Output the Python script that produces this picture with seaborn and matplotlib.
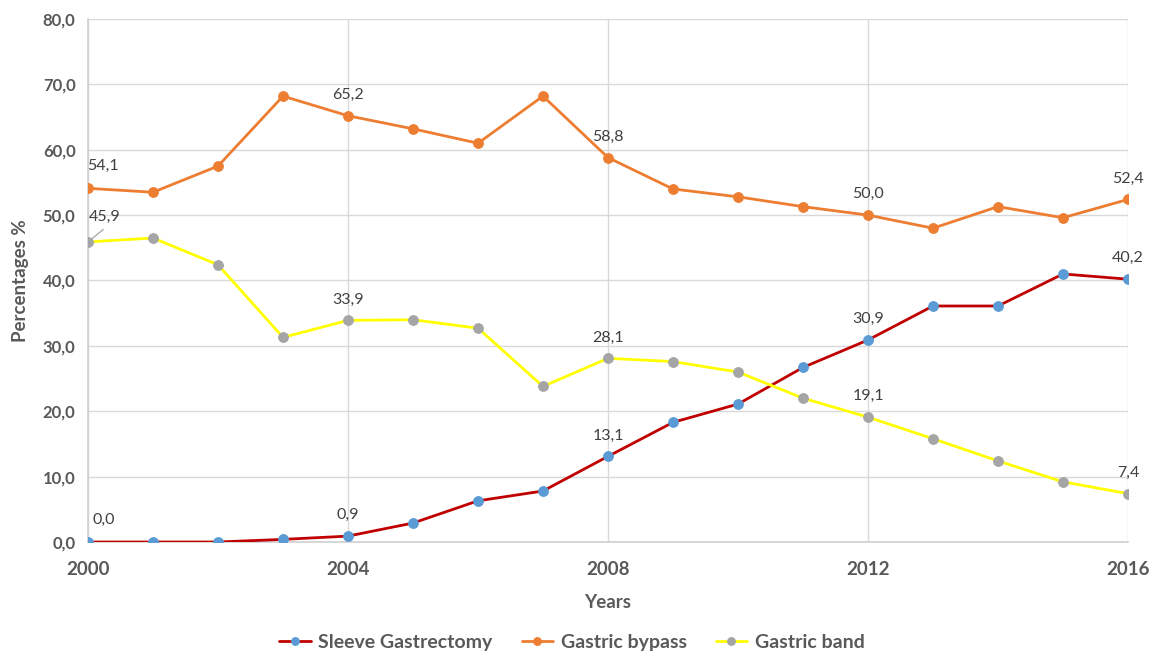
import pandas as pd
import numpy as np
import seaborn as sns
import matplotlib.pyplot as plt
from matplotlib.ticker import FuncFormatter, MultipleLocator

sns.set_theme(style='white')
plt.rcParams['font.family'] = ['Lato', 'DejaVu Sans']

# Datos
years = list(range(2000, 2017))
sleeve = [0.0, 0.0, 0.0, 0.4, 0.9, 2.9, 6.3, 7.8, 13.1, 18.3, 21.1, 26.7, 30.9, 36.1, 36.1, 41.0, 40.2]
bypass = [54.1, 53.5, 57.5, 68.2, 65.2, 63.2, 61.0, 68.2, 58.8, 54.0, 52.8, 51.3, 50.0, 48.0, 51.3, 49.6, 52.4]
band = [45.9, 46.5, 42.4, 31.3, 33.9, 34.0, 32.7, 23.8, 28.1, 27.6, 26.0, 22.0, 19.1, 15.8, 12.4, 9.2, 7.4]
labelled_years = [2000, 2004, 2008, 2012, 2016]

series = [
    ('Sleeve Gastrectomy', sleeve, '#C00000', '#5B9BD5'),
    ('Gastric bypass', bypass, '#ED7D31', '#ED7D31'),
    ('Gastric band', band, '#FFFF00', '#A5A5A5'),
]

fig = plt.figure(figsize=(11.51, 6.54), dpi=100)
ax = fig.add_axes([88 / 1151, 1 - 542 / 654, (1128 - 88) / 1151, (542 - 19) / 654])

for name, vals, lc, mc in series:
    df = pd.DataFrame({'year': years, 'value': vals})
    sns.lineplot(data=df, x='year', y='value', ax=ax, color=lc, linewidth=2,
                 marker='o', markersize=7, markerfacecolor=mc, markeredgecolor=mc,
                 label=name, legend=False, zorder=3)
    for yr, v in zip(years, vals):
        if yr not in labelled_years:
            continue
        txt = f'{v:.1f}'.replace('.', ',')
        if yr == 2000:
            if name == 'Gastric band':
                ax.annotate(txt, (yr, v), xytext=(12, 18), textcoords='offset points',
                            ha='center', va='center', fontsize=11.5, color='#404040')
                # trait de rappel
                ax.annotate('', (yr, v), xytext=(11, 9), textcoords='offset points',
                            arrowprops=dict(arrowstyle='-', color='#a5a5a5', lw=0.9,
                                            shrinkA=0, shrinkB=4))
            else:
                ax.annotate(txt, (yr, v), xytext=(11, 16), textcoords='offset points',
                            ha='center', va='center', fontsize=11.5, color='#404040')
        else:
            ax.annotate(txt, (yr, v), xytext=(0, 15), textcoords='offset points',
                        ha='center', va='center', fontsize=11.5, color='#404040')

ax.set_xlim(2000, 2016)
ax.set_ylim(0, 80)
ax.xaxis.set_major_locator(MultipleLocator(4))
ax.yaxis.set_major_locator(MultipleLocator(10))
ax.yaxis.set_major_formatter(FuncFormatter(lambda v, p: f'{v:.1f}'.replace('.', ',')))
ax.grid(True, color='#d9d9d9', linewidth=1)
ax.set_axisbelow(True)
for s in ['top', 'right']:
    ax.spines[s].set_visible(False)
for s in ['left', 'bottom']:
    ax.spines[s].set_color('#d0d0d0')
    ax.spines[s].set_linewidth(1.2)

ax.tick_params(axis='x', length=0, pad=14, labelsize=13.5, labelcolor='#595959')
ax.tick_params(axis='y', length=0, pad=9, labelsize=12, labelcolor='#595959')
for lab in ax.get_xticklabels() + ax.get_yticklabels():
    lab.set_fontweight('bold')

ax.set_xlabel('Years', fontsize=13.5, fontweight='bold', color='#595959', labelpad=11)
ax.set_ylabel('Percentages %', fontsize=13.5, fontweight='bold', color='#595959', labelpad=10)

handles, labels = ax.get_legend_handles_labels()
leg = fig.legend(handles, labels, loc='center', bbox_to_anchor=(0.497, 0.018), ncol=3,
                 frameon=False, handlelength=1.6, columnspacing=1.5, handletextpad=0.4,
                 markerscale=0.8, prop={'size': 14, 'weight': 'bold'})
for t in leg.get_texts():
    t.set_color('#595959')

fig.savefig('out.png', dpi=100)
